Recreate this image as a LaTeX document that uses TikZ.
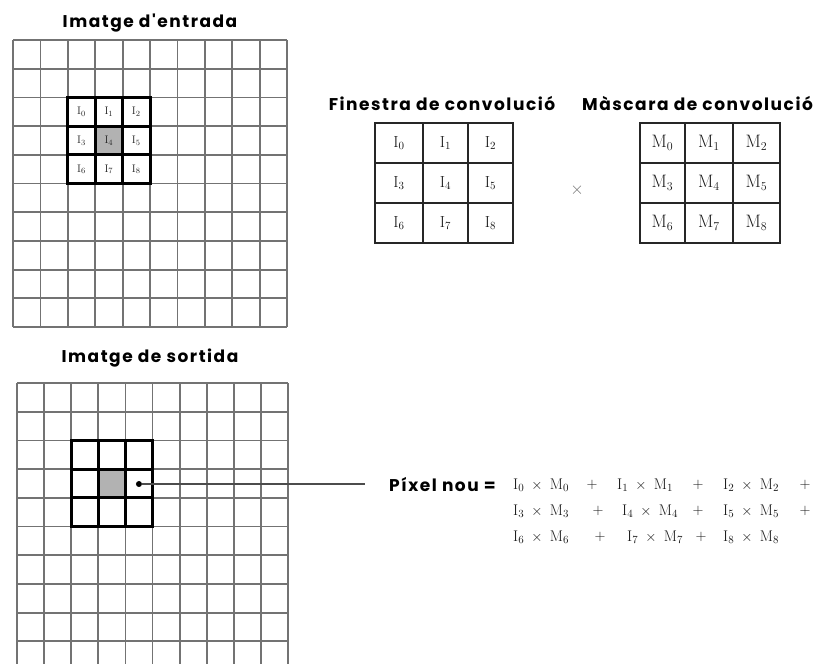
\documentclass[tikz,border=0pt]{standalone}
\usepackage{fontspec}
\newfontfamily\titlefont[LetterSpace=9]{Poppins}
\begin{document}
\begin{tikzpicture}[x=1pt,y=-1pt,
  gridline/.style={draw=black!55,line width=1.8pt},
  frameline/.style={draw=black,line width=3pt,line cap=rect},
  winline/.style={draw=black!85,line width=2.6pt,line cap=rect},
  ttl/.style={font=\titlefont\bfseries\fontsize{17}{19}\selectfont,inner sep=0pt},
  lbl/.style={font=\fontsize{16}{18}\selectfont,text=black!90,inner sep=0pt},
  mlbl/.style={font=\fontsize{18}{20}\selectfont,text=black!90,inner sep=0pt},
  smalllbl/.style={font=\fontsize{11}{12}\selectfont,text=black!85,inner sep=0pt},
  eqterm/.style={font=\fontsize{15.5}{17}\selectfont,text=black!90,inner sep=0pt,anchor=west},
  eqplus/.style={font=\fontsize{15.5}{17}\selectfont,text=black!90,inner sep=0pt},
]
\useasboundingbox (0,0) rectangle (824,664);

% ---------- input image ----------
\fill[black!30] ({13+3*27.4},{40+3*28.7}) rectangle ({13+4*27.4},{40+4*28.7});
\foreach \i in {0,...,10} {
  \draw[gridline] ({13+\i*27.4},40) -- ({13+\i*27.4},327);
  \draw[gridline] (13,{40+\i*28.7}) -- (287,{40+\i*28.7});
}
\foreach \k in {0,...,3} {
  \draw[frameline] ({13+(2+\k)*27.4},{40+2*28.7}) -- ({13+(2+\k)*27.4},{40+5*28.7});
  \draw[frameline] ({13+2*27.4},{40+(2+\k)*28.7}) -- ({13+5*27.4},{40+(2+\k)*28.7});
}
\foreach \r in {0,1,2} {
  \foreach \c in {0,1,2} {
    \pgfmathtruncatemacro\idx{3*\r+\c}
    \node[smalllbl] (in\idx) at ({13+(2.5+\c)*27.4},{40+(2.5+\r)*28.7}) {$\mathrm{I}_{\idx}$};
  }
}
\node[ttl] (tin) at (150,23) {Imatge d'entrada};

% ---------- output image ----------
\fill[black!30] ({17+3*27.1},{383+3*28.7}) rectangle ({17+4*27.1},{383+4*28.7});
\foreach \i in {0,...,10} {
  \draw[gridline] ({17+\i*27.1},383) -- ({17+\i*27.1},664);
}
\foreach \i in {0,...,9} {
  \draw[gridline] (17,{383+\i*28.7}) -- (288,{383+\i*28.7});
}
\foreach \k in {0,...,3} {
  \draw[frameline] ({17+(2+\k)*27.1},{383+2*28.7}) -- ({17+(2+\k)*27.1},{383+5*28.7});
  \draw[frameline] ({17+2*27.1},{383+(2+\k)*28.7}) -- ({17+5*27.1},{383+(2+\k)*28.7});
}
\node[ttl] (tout) at (150,358) {Imatge de sortida};
\node[circle,fill=black,inner sep=0pt,minimum size=6pt] (dot) at ({17+4.5*27.1},484) {};

% ---------- convolution window ----------
\node[ttl] (twin) at (442,103) {Finestra de convolució};
\foreach \x in {375,423,468,513} { \draw[winline] (\x,123) -- (\x,243); }
\foreach \y in {123,163,203,243} { \draw[winline] (375,\y) -- (513,\y); }
\foreach \cx [count=\c from 0] in {399,445.5,490.5} {
  \foreach \cy [count=\r from 0] in {143,183,223} {
    \pgfmathtruncatemacro\idx{3*\r+\c}
    \node[lbl] (w\idx) at (\cx,\cy) {$\mathrm{I}_{\idx}$};
  }
}

\node[font=\fontsize{16}{18}\selectfont,text=black!55,inner sep=0pt] (times) at (577,190) {$\times$};

% ---------- convolution mask ----------
\node[ttl,anchor=west] (tmask) at (582,103) {Màscara de convolució};
\foreach \x in {640,685,733,780} { \draw[winline] (\x,123) -- (\x,243); }
\foreach \y in {123,163,203,243} { \draw[winline] (640,\y) -- (780,\y); }
\foreach \cx [count=\c from 0] in {662.5,709,756.5} {
  \foreach \cy [count=\r from 0] in {143,183,223} {
    \pgfmathtruncatemacro\idx{3*\r+\c}
    \node[mlbl] (m\idx) at (\cx,\cy) {$\mathrm{M}_{\idx}$};
  }
}

% ---------- new pixel formula ----------
\node[ttl,anchor=west] (pix) at (389,485) {Píxel nou =};
\coordinate (lineend) at (365,484);
\draw[black!70,line width=1.5pt] (dot) -- (lineend);

\node[eqterm] (e0) at (513,485) {$\mathrm{I}_0\;\times\;\mathrm{M}_0$};
\node[eqplus] (p1) at (592,485) {$+$};
\node[eqterm] (e1) at (617,485) {$\mathrm{I}_1\;\times\;\mathrm{M}_1$};
\node[eqplus] (p2) at (698,485) {$+$};
\node[eqterm] (e2) at (723,485) {$\mathrm{I}_2\;\times\;\mathrm{M}_2$};
\node[eqplus] (p3) at (805,485) {$+$};

\node[eqterm] (e3) at (513,511) {$\mathrm{I}_3\;\times\;\mathrm{M}_3$};
\node[eqplus] (p4) at (598,511) {$+$};
\node[eqterm] (e4) at (622,511) {$\mathrm{I}_4\;\times\;\mathrm{M}_4$};
\node[eqplus] (p5) at (698,511) {$+$};
\node[eqterm] (e5) at (723,511) {$\mathrm{I}_5\;\times\;\mathrm{M}_5$};
\node[eqplus] (p6) at (805,511) {$+$};

\node[eqterm] (e6) at (513,537) {$\mathrm{I}_6\;\times\;\mathrm{M}_6$};
\node[eqplus] (p7) at (600,537) {$+$};
\node[eqterm] (e7) at (627,537) {$\mathrm{I}_7\;\times\;\mathrm{M}_7$};
\node[eqplus] (p8) at (701,537) {$+$};
\node[eqterm] (e8) at (723,537) {$\mathrm{I}_8\;\times\;\mathrm{M}_8$};
\end{tikzpicture}
\end{document}
